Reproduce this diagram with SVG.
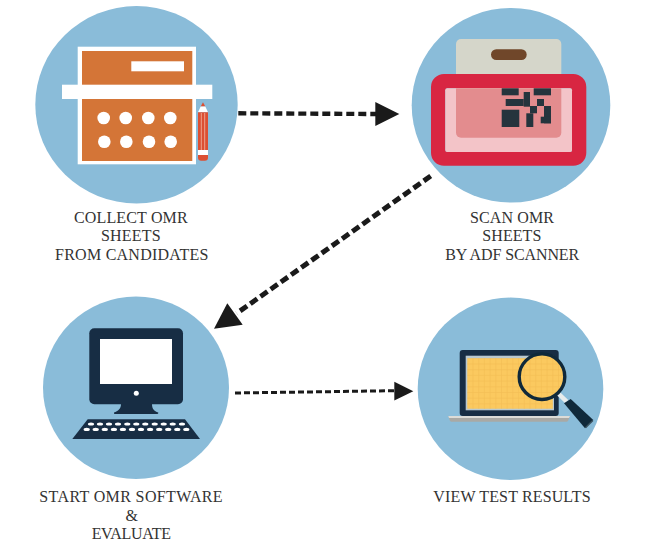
<svg xmlns="http://www.w3.org/2000/svg" width="645" height="553" viewBox="0 0 645 553">
<style>
.disc{fill:#8abcd9}
.w{fill:#fff}
.navy{fill:#172d44}
.qr{fill:#25343d}
.label{font-family:"Liberation Serif",serif;font-size:16px;fill:#333;text-anchor:middle}
.flow{fill:none;stroke:#1a1a1a;stroke-width:4.4}
.head{fill:#1a1a1a}
.grid{stroke:#f3bd55;stroke-width:.6;fill:none}
</style>
<defs>
<clipPath id="lens"><circle cx="542" cy="376.700" r="22.800"/></clipPath>
<path id="lcdgrid" d="M473 340V430M478.700 340V430M484.400 340V430M490.100 340V430M495.800 340V430M501.500 340V430M507.200 340V430M512.900 340V430M518.600 340V430M524.300 340V430M530 340V430M535.700 340V430M541.400 340V430M547.100 340V430M552.800 340V430M558.500 340V430M564.200 340V430M460 352.600H570M460 358.300H570M460 364H570M460 369.700H570M460 375.400H570M460 381.100H570M460 386.800H570M460 392.500H570M460 398.200H570M460 403.900H570"/>
<clipPath id="lcd"><rect x="467.300" y="358.300" width="85.400" height="50.400"/></clipPath>
</defs>
<rect width="645" height="553" fill="#fff"/>
<g id="collect">
<ellipse class="disc" cx="136.500" cy="104.700" rx="101.200" ry="98.700"/>
<rect class="w" x="77.700" y="46.700" width="118.300" height="117.600"/>
<rect x="82" y="51" width="110.300" height="110" fill="#d47537"/>
<rect class="w" x="62" y="84.700" width="150.300" height="14.300"/>
<rect class="w" x="131.300" y="61.300" width="52.700" height="10"/>
<g class="w">
<circle cx="103.700" cy="118" r="6.300"/><circle cx="125.700" cy="118" r="6.300"/><circle cx="148.300" cy="118" r="6.300"/><circle cx="170.300" cy="118" r="6.300"/>
<circle cx="104.300" cy="141.700" r="6.300"/><circle cx="126.300" cy="141.700" r="6.300"/><circle cx="149" cy="141.700" r="6.300"/><circle cx="170.700" cy="141.700" r="6.300"/>
</g>
<path d="M203 102.300L205.300 106.500H200.700Z" fill="#dc4f33"/>
<path d="M200.700 106.500H205.300L208 112.300H198Z" fill="#fff"/>
<rect x="198" y="112.300" width="10" height="37.700" fill="#dc4f33"/>
<path d="M201.300 113V150M204.700 113V150" stroke="#f3b9a6" stroke-width=".8"/>
<rect class="w" x="198" y="150" width="10" height="5"/>
<path d="M198 155H208V157.500A3.200 3.200 0 0 1 204.800 160.700H201.200A3.200 3.200 0 0 1 198 157.500Z" fill="#dc4f33"/>
</g>
<g id="scan">
<ellipse class="disc" cx="511" cy="105.300" rx="99.300" ry="97.300"/>
<rect x="456" y="39" width="105.300" height="98.700" rx="5" fill="#d5d6ca"/>
<rect x="491" y="49.300" width="35.700" height="10.700" rx="5.300" fill="#70472a"/>
<path fill-rule="evenodd" fill="#d82642" d="M444 74H573.300A13 13 0 0 1 586.300 87V152.700A13 13 0 0 1 573.300 165.700H444A13 13 0 0 1 431 152.700V87A13 13 0 0 1 444 74ZM447.300 88.300A2 2 0 0 0 445.300 90.300V150A2 2 0 0 0 447.300 152H570A2 2 0 0 0 572 150V90.300A2 2 0 0 0 570 88.300Z"/>
<rect x="445.300" y="88.300" width="126.700" height="63.700" rx="2" fill="#f3c4c8"/>
<path d="M456 88.300H561.300V132.700A5 5 0 0 1 556.300 137.700H461A5 5 0 0 1 456 132.700Z" fill="#e38c8e"/>
<g class="qr">
<rect x="501.700" y="88.300" width="17" height="7"/>
<rect x="533.700" y="88.300" width="17.300" height="7"/>
<rect x="523.700" y="92" width="6.300" height="14.700"/>
<rect x="505.700" y="99" width="18" height="7"/>
<rect x="537" y="99" width="7" height="7"/>
<rect x="501.700" y="109.700" width="17.600" height="17.300"/>
<rect x="530" y="106" width="7" height="7.300"/>
<rect x="526.300" y="113.300" width="7" height="13.700"/>
<rect x="544" y="106" width="7" height="17.300"/>
<rect x="540.700" y="116.700" width="10.300" height="6.600"/>
</g>
</g>
<g id="evaluate">
<ellipse class="disc" cx="136" cy="387.800" rx="93" ry="91.200"/>
<rect class="navy" x="89.300" y="328.300" width="93.700" height="76" rx="5"/>
<rect class="w" x="100" y="339" width="72" height="45"/>
<circle class="w" cx="136.300" cy="393.300" r="2.500"/>
<path class="navy" d="M121 404H152C152 409 154 411 158.300 412.500Q158.500 414 157 414H115Q113.500 414 114 412.500C118 411 121 409 121 404Z"/>
<path class="navy" d="M87.700 419.300H185L200 439H72.300Z"/>
<g class="w">
<ellipse cx="91" cy="424" rx="3.100" ry="1.600"/><ellipse cx="100" cy="424" rx="3.100" ry="1.600"/><ellipse cx="109" cy="424" rx="3.100" ry="1.600"/><ellipse cx="118" cy="424" rx="3.100" ry="1.600"/><ellipse cx="127.300" cy="424" rx="3.100" ry="1.600"/><ellipse cx="136.300" cy="424" rx="3.100" ry="1.600"/><ellipse cx="145.300" cy="424" rx="3.100" ry="1.600"/><ellipse cx="154.700" cy="424" rx="3.100" ry="1.600"/><ellipse cx="163.700" cy="424" rx="3.100" ry="1.600"/><ellipse cx="172.700" cy="424" rx="3.100" ry="1.600"/><ellipse cx="182" cy="424" rx="3.100" ry="1.600"/>
<ellipse cx="86.700" cy="429.400" rx="3.100" ry="1.600"/><ellipse cx="95.700" cy="429.400" rx="3.100" ry="1.600"/><ellipse cx="104.800" cy="429.400" rx="3.100" ry="1.600"/><ellipse cx="113.900" cy="429.400" rx="3.100" ry="1.600"/><ellipse cx="122.900" cy="429.400" rx="3.100" ry="1.600"/><ellipse cx="132" cy="429.400" rx="3.100" ry="1.600"/><ellipse cx="141" cy="429.400" rx="3.100" ry="1.600"/><ellipse cx="150.100" cy="429.400" rx="3.100" ry="1.600"/><ellipse cx="159.200" cy="429.400" rx="3.100" ry="1.600"/><ellipse cx="168.200" cy="429.400" rx="3.100" ry="1.600"/><ellipse cx="177.300" cy="429.400" rx="3.100" ry="1.600"/><ellipse cx="186.300" cy="429.400" rx="3.100" ry="1.600"/>
</g>
</g>
<g id="results">
<ellipse class="disc" cx="510.500" cy="388.800" rx="92.800" ry="91.200"/>
<rect class="navy" x="459.700" y="350" width="99" height="66" rx="3"/>
<rect x="465.700" y="355.700" width="88.300" height="54.600" fill="#b9c8cf"/>
<rect x="467.300" y="358.300" width="85.400" height="50.400" fill="#fbc95f"/>
<use href="#lcdgrid" class="grid" clip-path="url(#lcd)"/>
<path d="M448.300 416H570L568 421A2 2 0 0 1 566 421.700H452A2 2 0 0 1 450 421Z" fill="#a9a9a5"/>
<path d="M448.300 416H570L569 418H449Z" fill="#dcdcd8"/>
<path d="M558.300 393.500L566.700 401.700" stroke="#e8ecec" stroke-width="4.500" fill="none"/>
<path style="fill:#10293a" d="M564 403.300L570.700 399L593.300 420L585 428.300Z"/>
<path d="M585.500 427.800L592.800 420.500" stroke="#3b5260" stroke-width="1.600" fill="none"/>
<circle cx="542" cy="376.700" r="22.800" fill="#fbc95f"/>
<use href="#lcdgrid" class="grid" clip-path="url(#lens)"/>
<circle cx="542" cy="376.700" r="22.800" fill="none" stroke="#10293a" stroke-width="3.400"/>
</g>
<g id="connectors">
<path class="flow" stroke-dasharray="8 4" d="M238.300 113.300L376 114"/>
<path class="head" d="M375.300 102L399.300 114L375.300 126Z"/>
<path class="flow" style="stroke-width:5" stroke-dasharray="8.500 4" d="M430.700 176L236.700 313.300"/>
<path class="head" d="M214 328.700L227.300 303.300L242.700 324.700Z"/>
<path class="flow" style="stroke-width:3" stroke-dasharray="6 3" d="M235 393L396 390.700"/>
<path class="head" d="M413.300 391.200L394.300 381.700V400.500Z"/>
</g>
<g id="captions">
<text class="label" x="130.800" y="222.700" textLength="113.700">COLLECT OMR</text>
<text class="label" x="130.800" y="241.300" textLength="59.700">SHEETS</text>
<text class="label" x="131.700" y="260" textLength="153.300">FROM CANDIDATES</text>
<text class="label" x="512" y="222.700" textLength="84">SCAN OMR</text>
<text class="label" x="511.800" y="241.300" textLength="59">SHEETS</text>
<text class="label" x="512.200" y="260" textLength="134">BY ADF SCANNER</text>
<text class="label" x="131" y="502" textLength="183.300">START OMR SOFTWARE</text>
<text class="label" x="131.700" y="520.700" textLength="10">&amp;</text>
<text class="label" x="131.300" y="539.300" textLength="79.300">EVALUATE</text>
<text class="label" x="512" y="502" textLength="157.300">VIEW TEST RESULTS</text>
</g>
</svg>
